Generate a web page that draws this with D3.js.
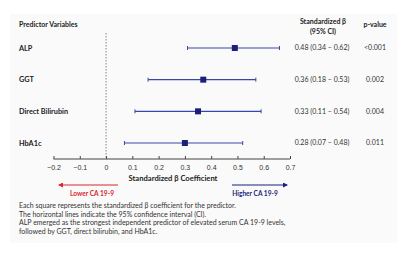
<!DOCTYPE html>
<html>
<head>
<meta charset="utf-8">
<script src="https://cdn.jsdelivr.net/npm/d3@7"></script>
<style>
  body { margin: 0; background: #fff; }
  svg { font-family: Lato, "Open Sans", sans-serif; }
  .tick text { font-size: 7px; fill: #333; }
</style>
</head>
<body>
<div id="chart"></div>
<script>
var svgWidth = 413;
var svgHeight = 259;

// predictors and estimates (read from the plotted marks)
var predictors = ["ALP", "GGT", "Direct Bilirubin", "HbA1c"];
var betaValues = [0.49, 0.37, 0.35, 0.30];
var ciLow = [0.31, 0.16, 0.11, 0.07];
var ciHigh = [0.66, 0.57, 0.59, 0.52];
var ciLabels = ["0.48 (0.34 \u2013 0.62)", "0.36 (0.18 \u2013 0.53)", "0.33 (0.11 \u2013 0.54)", "0.28 (0.07 \u2013 0.48)"];
var pValues = ["<0.001", "0.002", "0.004", "0.011"];
var xTicks = [-0.2, -0.1, 0, 0.1, 0.2, 0.3, 0.4, 0.5, 0.6, 0.7];
var footnotes = [
  "Each square represents the standardized \u03b2 coefficient for the predictor.",
  "The horizontal lines indicate the 95% confidence interval (CI).",
  "ALP emerged as the strongest independent predictor of elevated serum CA 19-9 levels,",
  "followed by GGT, direct bilirubin, and HbA1c."
];

var navy = "#1a1f7a";
var lineColor = "#3a47a8";

var svg = d3.select("#chart")
  .append("svg")
  .attr("width", svgWidth)
  .attr("height", svgHeight);

// faint panel behind everything
svg.append("rect")
  .attr("x", 10).attr("y", 14)
  .attr("width", 387).attr("height", 229)
  .attr("fill", "#fafafa");

var xScale = d3.scaleLinear()
  .domain([-0.2, 0.7])
  .range([53.5, 290]);

var yScale = d3.scalePoint()
  .domain(predictors)
  .range([48, 143]);

var axisY = 159;

// headers
svg.append("text")
  .attr("x", 19).attr("y", 27)
  .attr("font-size", 7).attr("font-weight", "bold").attr("fill", "#222")
  .text("Predictor Variables");

svg.append("text")
  .attr("x", 323).attr("y", 24)
  .attr("text-anchor", "middle")
  .attr("font-size", 7).attr("font-weight", "bold").attr("fill", "#222")
  .text("Standardized \u03b2");

svg.append("text")
  .attr("x", 323).attr("y", 34)
  .attr("text-anchor", "middle")
  .attr("font-size", 7).attr("font-weight", "bold").attr("fill", "#222")
  .text("(95% CI)");

svg.append("text")
  .attr("x", 375).attr("y", 27)
  .attr("text-anchor", "middle")
  .attr("font-size", 7).attr("font-weight", "bold").attr("fill", "#222")
  .text("p-value");

// zero reference line
svg.append("line")
  .attr("x1", xScale(0)).attr("x2", xScale(0))
  .attr("y1", 33).attr("y2", axisY)
  .attr("stroke", "#666")
  .attr("stroke-width", 0.8)
  .attr("stroke-dasharray", "1.5,1.5");

// x axis
var bottomAxis = d3.axisBottom(xScale)
  .tickValues(xTicks)
  .tickSize(3)
  .tickFormat(function(d) { return d === 0 ? "0" : d3.format(".1f")(d); });

var axisG = svg.append("g")
  .attr("transform", `translate(0, ${axisY})`)
  .call(bottomAxis);
axisG.select(".domain").attr("stroke", "#444").attr("d", `M${xScale(-0.2)},0H${xScale(0.7)}`);
axisG.selectAll(".tick line").attr("stroke", "#444").attr("y1", -3).attr("y2", 0);
axisG.selectAll(".tick text").attr("y", 6);

svg.append("text")
  .attr("x", 173).attr("y", 181)
  .attr("text-anchor", "middle")
  .attr("font-size", 7.6).attr("font-weight", "bold").attr("fill", "#222")
  .text("Standardized \u03b2 Coefficient");

// direction arrows
var defs = svg.append("defs");
[["arrRed", "#d9262c"], ["arrBlue", "#1a1f7a"]].forEach(function(a) {
  defs.append("marker")
    .attr("id", a[0])
    .attr("viewBox", "0 0 10 10")
    .attr("refX", 8).attr("refY", 5)
    .attr("markerWidth", 5).attr("markerHeight", 5)
    .attr("orient", "auto")
    .append("path")
    .attr("d", "M0,0L10,5L0,10Z")
    .attr("fill", a[1]);
});

svg.append("line")
  .attr("x1", 118).attr("x2", 59)
  .attr("y1", 185).attr("y2", 185)
  .attr("stroke", "#d9262c").attr("stroke-width", 1)
  .attr("marker-end", "url(#arrRed)");

svg.append("text")
  .attr("x", 92).attr("y", 195.5)
  .attr("text-anchor", "middle")
  .attr("font-size", 6.6).attr("font-weight", "bold").attr("fill", "#d9262c")
  .text("Lower CA 19-9");

svg.append("line")
  .attr("x1", 232).attr("x2", 287)
  .attr("y1", 185).attr("y2", 185)
  .attr("stroke", navy).attr("stroke-width", 1)
  .attr("marker-end", "url(#arrBlue)");

svg.append("text")
  .attr("x", 255).attr("y", 195.5)
  .attr("text-anchor", "middle")
  .attr("font-size", 6.6).attr("font-weight", "bold").attr("fill", navy)
  .text("Higher CA 19-9");

// rows
var rows = svg.selectAll(".row")
  .data(predictors)
  .enter()
  .append("g")
  .attr("class", "row");

rows.append("text")
  .attr("x", 19)
  .attr("y", d => yScale(d) + 2.5)
  .attr("font-size", 7.3).attr("font-weight", "bold").attr("fill", "#222")
  .text(d => d);

rows.append("line")
  .attr("x1", (d, i) => xScale(ciLow[i]))
  .attr("x2", (d, i) => xScale(ciHigh[i]))
  .attr("y1", d => yScale(d))
  .attr("y2", d => yScale(d))
  .attr("stroke", lineColor).attr("stroke-width", 1.1);

rows.append("line")
  .attr("x1", (d, i) => xScale(ciLow[i]))
  .attr("x2", (d, i) => xScale(ciLow[i]))
  .attr("y1", d => yScale(d) - 2)
  .attr("y2", d => yScale(d) + 2)
  .attr("stroke", lineColor).attr("stroke-width", 1);

rows.append("line")
  .attr("x1", (d, i) => xScale(ciHigh[i]))
  .attr("x2", (d, i) => xScale(ciHigh[i]))
  .attr("y1", d => yScale(d) - 2)
  .attr("y2", d => yScale(d) + 2)
  .attr("stroke", lineColor).attr("stroke-width", 1);

rows.append("rect")
  .attr("x", (d, i) => xScale(betaValues[i]) - 3)
  .attr("y", d => yScale(d) - 3)
  .attr("width", 6).attr("height", 6)
  .attr("fill", navy);

rows.append("text")
  .attr("x", 322)
  .attr("y", d => yScale(d) + 2.4)
  .attr("text-anchor", "middle")
  .attr("font-size", 7).attr("fill", "#333")
  .text((d, i) => ciLabels[i]);

rows.append("text")
  .attr("x", 375)
  .attr("y", d => yScale(d) + 2.4)
  .attr("text-anchor", "middle")
  .attr("font-size", 7).attr("fill", "#333")
  .text((d, i) => pValues[i]);

// footnotes
svg.selectAll(".foot")
  .data(footnotes)
  .enter()
  .append("text")
  .attr("class", "foot")
  .attr("x", 19)
  .attr("y", (d, i) => 208 + i * 8.7)
  .attr("font-size", 7).attr("fill", "#333")
  .text(d => d);
</script>
</body>
</html>
